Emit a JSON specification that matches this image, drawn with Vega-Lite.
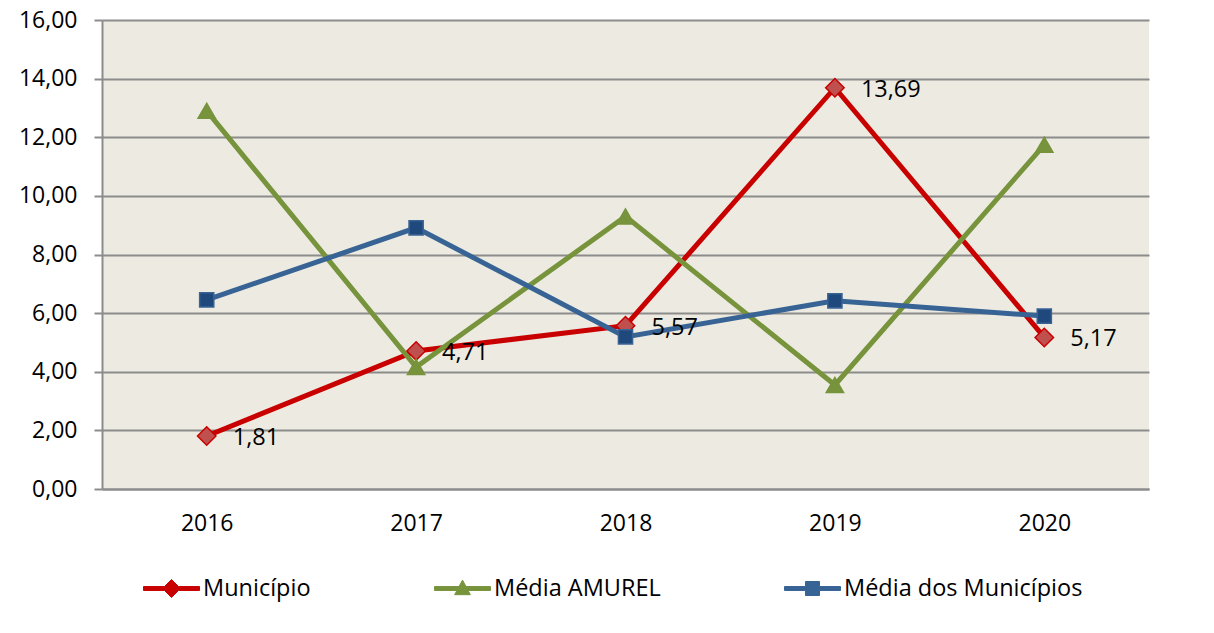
{
  "$schema": "https://vega.github.io/schema/vega-lite/v6.json",
  "width": 1047,
  "height": 469,
  "autosize": {"type": "none"},
  "padding": {"left": 102, "top": 20, "right": 65, "bottom": 144},
  "background": "white",
  "config": {
    "locale": {"number": {"decimal": ",", "thousands": ".", "grouping": [3], "currency": ["R$", ""]}},
    "view": {"fill": "#EDEBE1", "stroke": null},
    "font": "Open Sans",
    "axis": {"labelFont": "Open Sans", "labelFontSize": 23, "labelColor": "#000000", "title": null}
  },
  "data": {
    "values": [
      {"ano": "2016", "serie": "Município", "valor": 1.81},
      {"ano": "2017", "serie": "Município", "valor": 4.71},
      {"ano": "2018", "serie": "Município", "valor": 5.57},
      {"ano": "2019", "serie": "Município", "valor": 13.69},
      {"ano": "2020", "serie": "Município", "valor": 5.17},
      {"ano": "2016", "serie": "Média AMUREL", "valor": 12.9},
      {"ano": "2017", "serie": "Média AMUREL", "valor": 4.16},
      {"ano": "2018", "serie": "Média AMUREL", "valor": 9.3},
      {"ano": "2019", "serie": "Média AMUREL", "valor": 3.55},
      {"ano": "2020", "serie": "Média AMUREL", "valor": 11.74},
      {"ano": "2016", "serie": "Média dos Municípios", "valor": 6.45},
      {"ano": "2017", "serie": "Média dos Municípios", "valor": 8.91},
      {"ano": "2018", "serie": "Média dos Municípios", "valor": 5.19},
      {"ano": "2019", "serie": "Média dos Municípios", "valor": 6.42},
      {"ano": "2020", "serie": "Média dos Municípios", "valor": 5.9}
    ]
  },
  "encoding": {
    "x": {
      "field": "ano", "type": "ordinal",
      "scale": {"type": "point", "padding": 0.5},
      "axis": {"labelAngle": 0, "ticks": false, "labelPadding": 23, "domainColor": "#8C8C8C", "domainWidth": 2, "grid": false}
    },
    "y": {
      "field": "valor", "type": "quantitative",
      "scale": {"domain": [0, 16], "nice": false},
      "axis": {"values": [0, 2, 4, 6, 8, 10, 12, 14, 16], "format": ".2f", "tickSize": 8, "tickColor": "#8C8C8C", "tickWidth": 2, "labelPadding": 17, "domainColor": "#8C8C8C", "domainWidth": 2, "gridColor": "#8C8C8C", "gridWidth": 2}
    }
  },
  "layer": [
    {
      "mark": {"type": "line", "strokeWidth": 5, "strokeCap": "butt", "strokeJoin": "miter"},
      "encoding": {
        "color": {
          "field": "serie", "type": "nominal",
          "scale": {"domain": ["Município", "Média AMUREL", "Média dos Municípios"], "range": ["#C80000", "#77933C", "#386395"]},
          "legend": {
            "orient": "none", "legendX": 41, "legendY": 540, "direction": "horizontal", "columns": 3,
            "title": null, "padding": 0, "columnPadding": 121,
            "symbolSize": 3136, "symbolStrokeWidth": 1, "symbolType": "M-1,-0.07L1,-0.07L1,0.07L-1,0.07Z",
            "labelFont": "Open Sans", "labelFontSize": 23.5, "labelColor": "#000000", "labelOffset": 3, "labelLimit": 400,
            "encode": {
              "symbols": {
                "update": {
                  "shape": {"signal": "datum.value === 'Município' ? 'M-1,-0.07L-0.25,-0.07L0,-0.32L0.25,-0.07L1,-0.07L1,0.07L0.25,0.07L0,0.32L-0.25,0.07L-1,0.07Z' : datum.value === 'Média AMUREL' ? 'M-1,-0.07L-0.124,-0.07L0,-0.3L0.124,-0.07L1,-0.07L1,0.07L0.199,0.07L0.28,0.22L-0.28,0.22L-0.199,0.07L-1,0.07Z' : 'M-1,-0.07L-0.25,-0.07L-0.25,-0.25L0.25,-0.25L0.25,-0.07L1,-0.07L1,0.07L0.25,0.07L0.25,0.25L-0.25,0.25L-0.25,0.07L-1,0.07Z'"},
                  "fill": {"signal": "datum.value === 'Município' ? '#C80000' : datum.value === 'Média AMUREL' ? '#77933C' : '#386395'"},
                  "stroke": {"signal": "datum.value === 'Município' ? '#C80000' : datum.value === 'Média AMUREL' ? '#77933C' : '#386395'"}
                }
              }
            }
          }
        }
      }
    },
    {
      "mark": {"type": "point", "filled": false, "strokeWidth": 1.5, "opacity": 1},
      "encoding": {
        "shape": {"condition": [{"test": "datum.serie === 'Município'", "value": "diamond"}, {"test": "datum.serie === 'Média AMUREL'", "value": "triangle-up"}], "value": "square"},
        "fill": {"condition": [{"test": "datum.serie === 'Município'", "value": "#C0504D"}, {"test": "datum.serie === 'Média AMUREL'", "value": "#77933C"}], "value": "#1F497D"},
        "stroke": {"condition": [{"test": "datum.serie === 'Município'", "value": "#C80000"}, {"test": "datum.serie === 'Média AMUREL'", "value": "#77933C"}], "value": "#386395"},
        "size": {"condition": [{"test": "datum.serie === 'Município'", "value": 340}, {"test": "datum.serie === 'Média AMUREL'", "value": 300}], "value": 200}
      }
    },
    {
      "transform": [{"filter": "datum.serie === 'Município'"}],
      "mark": {"type": "text", "align": "left", "baseline": "middle", "dx": 26, "dy": 2, "fontSize": 23.5, "font": "Open Sans", "color": "#000000"},
      "encoding": {
        "text": {"field": "valor", "type": "quantitative", "format": ".2f"}
      }
    }
  ]
}
